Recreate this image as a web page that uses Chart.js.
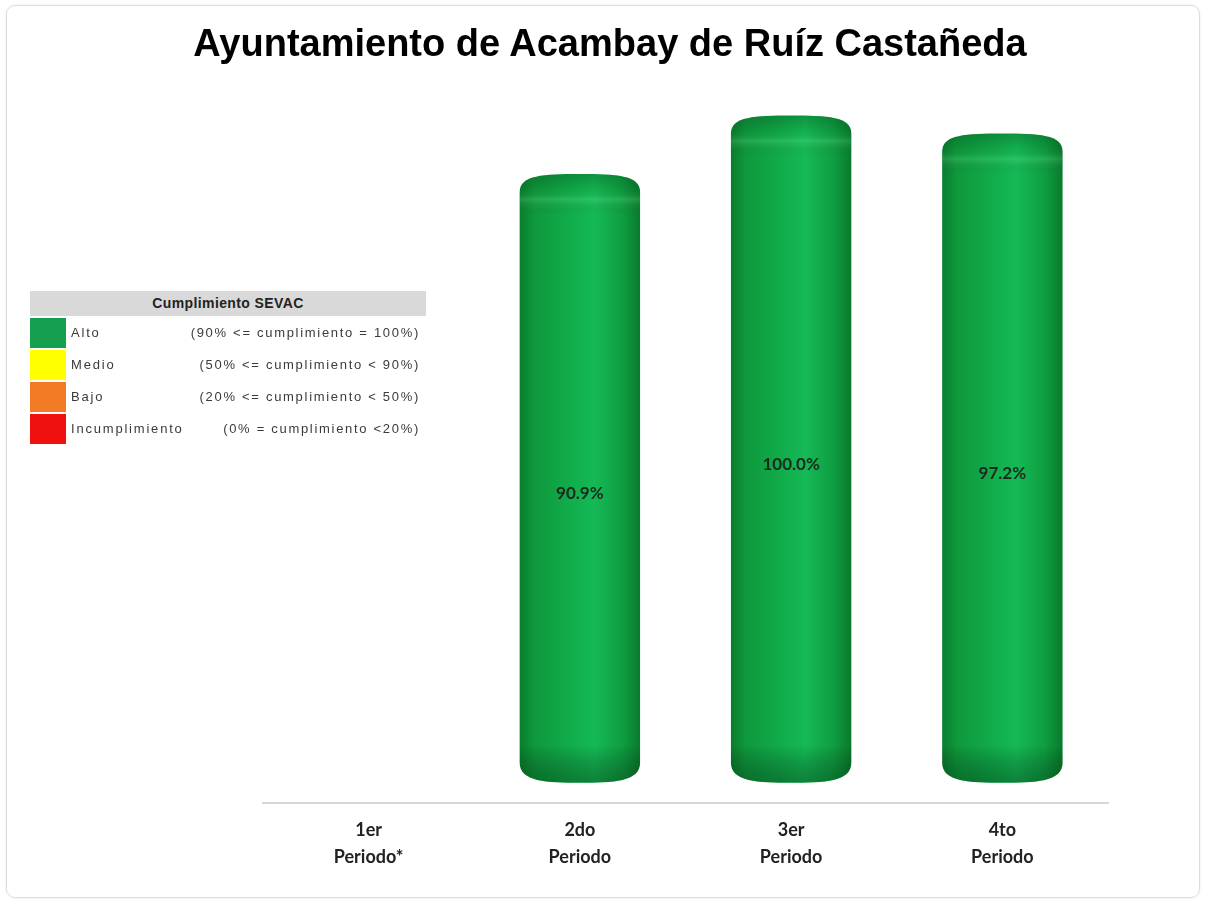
<!DOCTYPE html>
<html>
<head>
<meta charset="utf-8">
<script src="https://cdn.jsdelivr.net/npm/chart.js@4.4.0/dist/chart.umd.min.js"></script>
<style>
  body { margin: 0; background: #fff; }
  #wrap { position: relative; width: 1205px; height: 902px; }
  #frame { position: absolute; left: 6px; top: 5px; width: 1192px; height: 891px;
    border: 1px solid #dcdcdc; border-radius: 9px; box-shadow: 0 0 3px rgba(0,0,0,0.08); pointer-events: none; }
  #title { position: absolute; left: 0; top: 21px; width: 1220px; text-align: center;
    font-family: "Liberation Sans", Arial, sans-serif; font-weight: bold; font-size: 38px; line-height: 44px; color: #000; }
  #legendBox { position: absolute; left: 30px; top: 291px; width: 396px;
    font-family: "Liberation Sans", Arial, sans-serif; font-size: 13px; color: #3a3a3a; }
  #legendBox .head { background: #d9d9d9; height: 25px; line-height: 25px; text-align: center;
    font-weight: bold; color: #222; font-size: 14px; letter-spacing: 0.4px; margin-bottom: 2px; }
  #legendBox .row { position: relative; height: 30px; line-height: 30px; margin-bottom: 2px; }
  #legendBox .sw { position: absolute; left: 0; top: 0; width: 36px; height: 30px; }
  #legendBox .name { position: absolute; left: 41px; top: 0; letter-spacing: 1.8px; }
  #legendBox .range { position: absolute; right: 6px; top: 0; letter-spacing: 1.7px; }
</style>
</head>
<body>
<div id="wrap">
  <canvas id="sevacChart" width="1205" height="902"></canvas>
  <div id="title">Ayuntamiento de Acambay de Ruíz Castañeda</div>
  <div id="legendBox"></div>
  <div id="frame"></div>
</div>
<script>
const periodos = [['1er', 'Periodo*'], ['2do', 'Periodo'], ['3er', 'Periodo'], ['4to', 'Periodo']];
const cumplimiento = [null, 90.9, 100.0, 97.2];

const legendNames = ['Alto', 'Medio', 'Bajo', 'Incumplimiento'];
const legendRanges = ['(90% <= cumplimiento = 100%)', '(50% <= cumplimiento < 90%)', '(20% <= cumplimiento < 50%)', '(0% = cumplimiento <20%)'];
const legendColors = ['#14a04f', '#ffff00', '#f47b25', '#f01010'];

// html legend box
const legendBox = document.getElementById('legendBox');
let html = '<div class="head">Cumplimiento SEVAC</div>';
legendNames.forEach((name, i) => {
  html += `<div class="row"><div class="sw" style="background:${legendColors[i]}"></div>` +
          `<span class="name">${name}</span><span class="range">${legendRanges[i]}</span></div>`;
});
legendBox.innerHTML = html;

// draws each bar as a green cylinder using the bar element geometry
const cylinderPlugin = {
  id: 'cylinders',
  afterDatasetsDraw(chart) {
    const ctx = chart.ctx;
    const meta = chart.getDatasetMeta(0);
    meta.data.forEach((bar, i) => {
      if (cumplimiento[i] == null) return;
      const { x, y, base, width } = bar.getProps(['x', 'y', 'base', 'width'], true);
      const rx = width / 2;
      const ry = 12;
      ctx.save();
      ctx.beginPath();
      ctx.moveTo(x - rx, y + 6);
      ctx.bezierCurveTo(x - rx, y - ry + 1, x - rx * 0.6, y - ry, x, y - ry);
      ctx.bezierCurveTo(x + rx * 0.6, y - ry, x + rx, y - ry + 1, x + rx, y + 6);
      ctx.lineTo(x + rx, base - 8);
      ctx.bezierCurveTo(x + rx, base + ry - 1, x + rx * 0.55, base + ry, x, base + ry);
      ctx.bezierCurveTo(x - rx * 0.55, base + ry, x - rx, base + ry - 1, x - rx, base - 8);
      ctx.closePath();

      const g = ctx.createLinearGradient(x - rx, 0, x + rx, 0);
      g.addColorStop(0, '#0a7d2e');
      g.addColorStop(0.12, '#0e983c');
      g.addColorStop(0.5, '#12b24f');
      g.addColorStop(0.62, '#15b956');
      g.addColorStop(0.85, '#0f9e41');
      g.addColorStop(1, '#0a7a2d');
      ctx.fillStyle = g;
      ctx.fill();
      ctx.clip();

      // lid shading
      const lid = ctx.createLinearGradient(0, y - ry, 0, y + ry * 2.4);
      lid.addColorStop(0, 'rgba(0,60,20,0.3)');
      lid.addColorStop(0.4, 'rgba(0,40,10,0.06)');
      lid.addColorStop(0.62, 'rgba(150,255,180,0.16)');
      lid.addColorStop(1, 'rgba(0,0,0,0)');
      ctx.fillStyle = lid;
      ctx.fillRect(x - rx, y - ry, width, ry * 3.4);

      // bottom shading
      const bot = ctx.createLinearGradient(0, base - 26, 0, base + ry);
      bot.addColorStop(0, 'rgba(0,0,0,0)');
      bot.addColorStop(1, 'rgba(0,50,15,0.4)');
      ctx.fillStyle = bot;
      ctx.fillRect(x - rx, base - 26, width, 26 + ry);
      ctx.restore();

      // value label
      ctx.save();
      ctx.font = 'bold 17px Lato, "Open Sans", sans-serif';
      ctx.fillStyle = '#1c2b1e';
      ctx.textAlign = 'center';
      ctx.textBaseline = 'middle';
      ctx.fillText(cumplimiento[i].toFixed(1) + '%', x, (y + chart.chartArea.bottom) / 2 - 1);
      ctx.restore();
    });
  }
};

const ctx = document.getElementById('sevacChart').getContext('2d');
const sevacChart = new Chart(ctx, {
  type: 'bar',
  data: {
    labels: periodos,
    datasets: [{
      label: 'Cumplimiento',
      data: cumplimiento,
      backgroundColor: 'rgba(0,0,0,0)',
      borderWidth: 0,
      categoryPercentage: 1,
      barPercentage: 0.57
    }]
  },
  options: {
    responsive: false,
    animation: false,
    layout: {
      padding: { left: 263, right: 97, top: 76, bottom: 17 }
    },
    plugins: {
      legend: { display: false },
      tooltip: { enabled: false }
    },
    scales: {
      x: {
        grid: { display: false, drawTicks: false },
        border: { display: true, color: '#d6d6d6', width: 2 },
        ticks: {
          color: '#222',
          padding: 14,
          font: { family: 'Lato, "Open Sans", sans-serif', size: 18, weight: 'bold', lineHeight: 1.5 }
        }
      },
      y: {
        display: false,
        min: -5,
        max: 108
      }
    }
  },
  plugins: [cylinderPlugin]
});
</script>
</body>
</html>
